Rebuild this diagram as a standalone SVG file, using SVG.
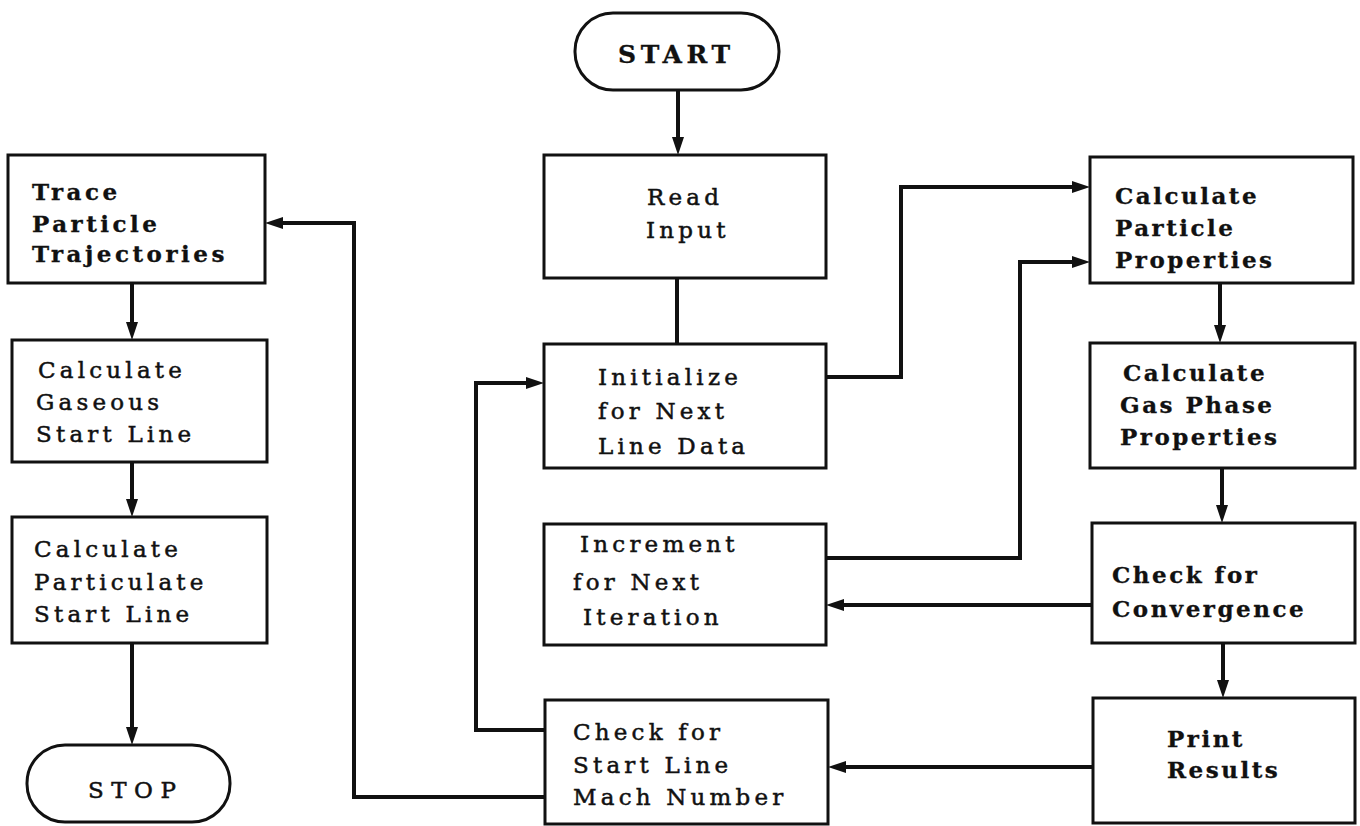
<svg xmlns="http://www.w3.org/2000/svg" width="1360" height="826" viewBox="0 0 1360 826">
<style>
.box{fill:#fff;stroke:#111;stroke-width:3}
.t{font-family:"DejaVu Serif","Liberation Serif",serif;font-size:23px;letter-spacing:4.2px;fill:#111;stroke:#111;stroke-width:0.5}
.b{font-weight:bold;letter-spacing:2.5px;stroke-width:0.3}
.c{fill:none;stroke:#111;stroke-width:4}
</style>
<defs>
<marker id="ah" markerUnits="userSpaceOnUse" markerWidth="18" markerHeight="12" refX="8" refY="6" orient="auto">
<path d="M0,0 L18,6 L0,12 z" fill="#111"/>
</marker>
</defs>
<rect width="1360" height="826" fill="#fff"/>

<g id="connectors">
<path class="c" d="M678,90 V145" marker-end="url(#ah)"/>
<path class="c" d="M677,278 V344"/>
<path class="c" d="M826,377 H901 V187 H1080" marker-end="url(#ah)"/>
<path class="c" d="M826,558 H1020 V262 H1080" marker-end="url(#ah)"/>
<path class="c" d="M1220,283 V333" marker-end="url(#ah)"/>
<path class="c" d="M1222,468 V513" marker-end="url(#ah)"/>
<path class="c" d="M1223,643 V688" marker-end="url(#ah)"/>
<path class="c" d="M1092,605 H836" marker-end="url(#ah)"/>
<path class="c" d="M1093,767 H838" marker-end="url(#ah)"/>
<path class="c" d="M545,730 H476 V383 H534" marker-end="url(#ah)"/>
<path class="c" d="M545,797 H354 V223 H275" marker-end="url(#ah)"/>
<path class="c" d="M132,283 V330" marker-end="url(#ah)"/>
<path class="c" d="M132,462 V507" marker-end="url(#ah)"/>
<path class="c" d="M132,643 V735" marker-end="url(#ah)"/>
</g>

<g id="start">
<rect class="box" x="575" y="13" width="204" height="77" rx="38"/>
<text class="t b" x="618" y="63" style="font-size:25px;letter-spacing:4.6px">START</text>
</g>

<g id="read-input">
<rect class="box" x="544" y="155" width="282" height="123"/>
<text class="t" x="647" y="205">Read</text>
<text class="t" x="646" y="238">Input</text>
</g>

<g id="initialize">
<rect class="box" x="544" y="344" width="282" height="124"/>
<text class="t" x="598" y="385">Initialize</text>
<text class="t" x="598" y="419">for Next</text>
<text class="t" x="598" y="454">Line Data</text>
</g>

<g id="increment">
<rect class="box" x="544" y="524" width="282" height="121"/>
<text class="t" x="580" y="552">Increment</text>
<text class="t" x="573" y="590">for Next</text>
<text class="t" x="583" y="625">Iteration</text>
</g>

<g id="check-start-line">
<rect class="box" x="545" y="700" width="283" height="124"/>
<text class="t" x="573" y="740">Check for</text>
<text class="t" x="573" y="773">Start Line</text>
<text class="t" x="573" y="805">Mach Number</text>
</g>

<g id="trace">
<rect class="box" x="8" y="155" width="257" height="128"/>
<text class="t b" x="32" y="200" style="letter-spacing:3.5px">Trace</text>
<text class="t b" x="32" y="232" style="letter-spacing:3.5px">Particle</text>
<text class="t b" x="32" y="262" style="letter-spacing:3.5px">Trajectories</text>
</g>

<g id="calc-gaseous">
<rect class="box" x="12" y="340" width="255" height="122"/>
<text class="t" x="38" y="378">Calculate</text>
<text class="t" x="36" y="410">Gaseous</text>
<text class="t" x="36" y="442">Start Line</text>
</g>

<g id="calc-particulate">
<rect class="box" x="12" y="517" width="255" height="126"/>
<text class="t" x="34" y="557">Calculate</text>
<text class="t" x="34" y="590">Particulate</text>
<text class="t" x="34" y="622">Start Line</text>
</g>

<g id="stop">
<rect class="box" x="27" y="745" width="203" height="77" rx="38"/>
<text class="t" x="88" y="798" style="letter-spacing:7.5px">STOP</text>
</g>

<g id="calc-particle">
<rect class="box" x="1090" y="157" width="263" height="126"/>
<text class="t b" x="1115" y="204">Calculate</text>
<text class="t b" x="1115" y="236">Particle</text>
<text class="t b" x="1115" y="268">Properties</text>
</g>

<g id="calc-gas-phase">
<rect class="box" x="1090" y="343" width="265" height="125"/>
<text class="t b" x="1123" y="381">Calculate</text>
<text class="t b" x="1120" y="413">Gas Phase</text>
<text class="t b" x="1120" y="445">Properties</text>
</g>

<g id="check-convergence">
<rect class="box" x="1092" y="523" width="263" height="120"/>
<text class="t b" x="1112" y="583">Check for</text>
<text class="t b" x="1112" y="617">Convergence</text>
</g>

<g id="print-results">
<rect class="box" x="1093" y="698" width="262" height="125"/>
<text class="t b" x="1167" y="747">Print</text>
<text class="t b" x="1167" y="778">Results</text>
</g>
</svg>
